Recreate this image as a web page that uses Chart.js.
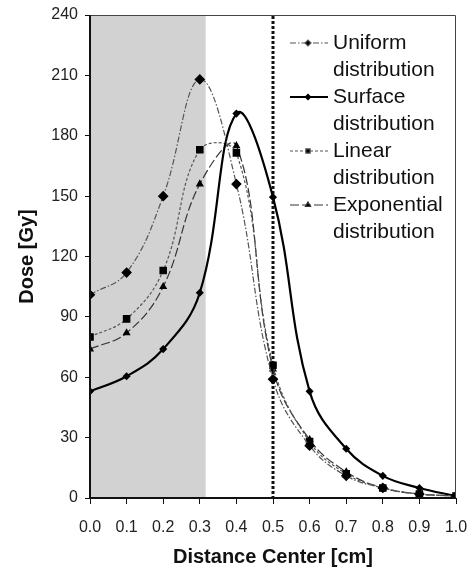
<!DOCTYPE html>
<html>
<head>
<meta charset="utf-8">
<script src="https://cdn.jsdelivr.net/npm/chart.js@4"></script>
<style>
    html, body { margin: 0; padding: 0; background: #fff; }
    #wrap { width: 471px; height: 570px; }
</style>
</head>
<body>
<div id="wrap"><canvas id="doseChart"></canvas></div>
<script>
// distance from centre [cm]
const distances = [0.0, 0.1, 0.2, 0.3, 0.4, 0.5, 0.6, 0.7, 0.8, 0.9, 1.0];

// dose [Gy] per source distribution
const uniformDose     = [101, 112, 150, 208, 156, 59, 26, 11, 5, 2, 1];
const surfaceDose     = [53, 60.5, 74, 102, 191, 149.5, 53, 24.5, 11, 5, 1];
const linearDose      = [80, 89, 113, 173, 171.5, 66, 28, 12, 5, 2, 1];
const exponentialDose = [74, 82, 105, 156, 175, 64, 29, 13, 5, 2, 1];

const seriesNames = [
    ['Uniform', 'distribution'],
    ['Surface', 'distribution'],
    ['Linear', 'distribution'],
    ['Exponential', 'distribution']
];

const yTicks = [0, 30, 60, 90, 120, 150, 180, 210, 240];
const shadedUntil = 0.316;   // grey region (tumour) edge
const markerLineAt = 0.5;    // dotted vertical line

const FONT = "'Liberation Sans', Arial, sans-serif";

function toPoints(values) {
    return distances.map((x, i) => ({ x: x, y: values[i] }));
}

const shadePlugin = {
    id: 'shade',
    beforeDatasetsDraw(chart) {
        const { ctx, chartArea, scales } = chart;
        const xEnd = scales.x.getPixelForValue(shadedUntil);
        ctx.save();
        ctx.fillStyle = '#d2d2d2';
        ctx.fillRect(chartArea.left, chartArea.top, xEnd - chartArea.left, chartArea.bottom - chartArea.top);

        // dotted vertical line
        const xl = Math.round(scales.x.getPixelForValue(markerLineAt));
        ctx.fillStyle = '#111';
        for (let y = chartArea.top + 1; y < chartArea.bottom; y += 5) {
            ctx.fillRect(xl - 1.5, y, 3, 3);
        }
        ctx.restore();
    },
    afterDraw(chart) {
        const { ctx, chartArea } = chart;
        ctx.save();
        // top and right frame
        ctx.strokeStyle = '#444';
        ctx.lineWidth = 1;
        ctx.beginPath();
        ctx.moveTo(chartArea.left, chartArea.top + 0.5);
        ctx.lineTo(chartArea.right - 0.5, chartArea.top + 0.5);
        ctx.lineTo(chartArea.right - 0.5, chartArea.bottom);
        ctx.stroke();
        // left and bottom axes
        ctx.strokeStyle = '#111';
        ctx.lineWidth = 2;
        ctx.beginPath();
        ctx.moveTo(chartArea.left, chartArea.top);
        ctx.lineTo(chartArea.left, chartArea.bottom);
        ctx.lineTo(chartArea.right, chartArea.bottom);
        ctx.stroke();

        // legend, two lines per entry
        const x0 = chartArea.left + 200;
        const textX = x0 + 43;
        let y = chartArea.top + 28;
        ctx.font = '21px ' + FONT;
        ctx.textBaseline = 'middle';
        chart.data.datasets.forEach((ds, i) => {
            ctx.strokeStyle = ds.borderColor;
            ctx.lineWidth = ds.borderWidth;
            ctx.setLineDash(ds.borderDash || []);
            ctx.beginPath();
            ctx.moveTo(x0, y);
            ctx.lineTo(x0 + 38, y);
            ctx.stroke();
            ctx.setLineDash([]);
            ctx.fillStyle = '#000';
            Chart.helpers.drawPoint(ctx, {
                pointStyle: ds.pointStyle,
                radius: i === 1 ? 2 : 3,
                borderWidth: 1
            }, x0 + 18, y);
            ctx.fillStyle = '#111';
            ctx.fillText(seriesNames[i][0], textX, y);
            ctx.fillText(seriesNames[i][1], textX, y + 27);
            y += 54;
        });
        ctx.restore();
    }
};

const ctx = document.getElementById('doseChart').getContext('2d');
new Chart(ctx, {
    type: 'line',
    data: {
        datasets: [
            {
                label: 'Uniform distribution',
                data: toPoints(uniformDose),
                borderColor: '#555', borderWidth: 1.2, borderDash: [6, 2, 1.5, 2],
                pointStyle: 'rectRot', pointRadius: 4.5,
                pointBackgroundColor: '#000', pointBorderColor: '#000'
            },
            {
                label: 'Surface distribution',
                data: toPoints(surfaceDose),
                borderColor: '#000', borderWidth: 2.2,
                pointStyle: 'rectRot', pointRadius: 2.5,
                pointBackgroundColor: '#000', pointBorderColor: '#000'
            },
            {
                label: 'Linear distribution',
                data: toPoints(linearDose),
                borderColor: '#555', borderWidth: 1.2, borderDash: [3, 2],
                pointStyle: 'rect', pointRadius: 4.5,
                pointBackgroundColor: '#000', pointBorderColor: '#000'
            },
            {
                label: 'Exponential distribution',
                data: toPoints(exponentialDose),
                borderColor: '#333', borderWidth: 1.2, borderDash: [9, 3],
                pointStyle: 'triangle', pointRadius: 3.5,
                pointBackgroundColor: '#000', pointBorderColor: '#000'
            }
        ]
    },
    options: {
        responsive: true,
        maintainAspectRatio: false,
        animation: false,
        devicePixelRatio: 1,
        layout: { padding: { top: 15, right: 15, left: 15, bottom: 1 } },
        elements: { line: { tension: 0.4, fill: false }, point: { borderWidth: 1 } },
        plugins: {
            legend: { display: false },
            tooltip: { enabled: false }
        },
        scales: {
            x: {
                type: 'linear', min: 0, max: 1,
                afterFit: (scale) => {
                    scale.height = 71;
                    scale.paddingLeft = 0;
                    scale.paddingRight = 0;
                },
                afterBuildTicks: (scale) => { scale.ticks = distances.map(v => ({ value: v })); },
                grid: { drawOnChartArea: false, drawTicks: true, tickLength: 6, color: '#111', lineWidth: 1 },
                border: { display: false },
                ticks: {
                    color: '#222', padding: 14, maxRotation: 0,
                    font: { family: FONT, size: 16 },
                    callback: (v) => Number(v).toFixed(1)
                },
                title: {
                    display: true, text: 'Distance Center [cm]', color: '#111',
                    font: { family: FONT, size: 20, weight: 'bold' },
                    padding: { top: 0, bottom: 0 }
                }
            },
            y: {
                type: 'linear', min: 0, max: 240,
                afterFit: (scale) => {
                    scale.width = 75;
                    scale.paddingTop = 0;
                    scale.paddingBottom = 0;
                },
                afterBuildTicks: (scale) => { scale.ticks = yTicks.map(v => ({ value: v })); },
                grid: { drawOnChartArea: false, drawTicks: true, tickLength: 5, color: '#111', lineWidth: 1 },
                border: { display: false },
                ticks: {
                    color: '#222', padding: 7,
                    font: { family: FONT, size: 16 }
                },
                title: {
                    display: true, text: 'Dose [Gy]', color: '#111',
                    font: { family: FONT, size: 20, weight: 'bold' },
                    padding: { top: 0, bottom: 0 }
                }
            }
        }
    },
    plugins: [shadePlugin]
});
</script>
</body>
</html>
